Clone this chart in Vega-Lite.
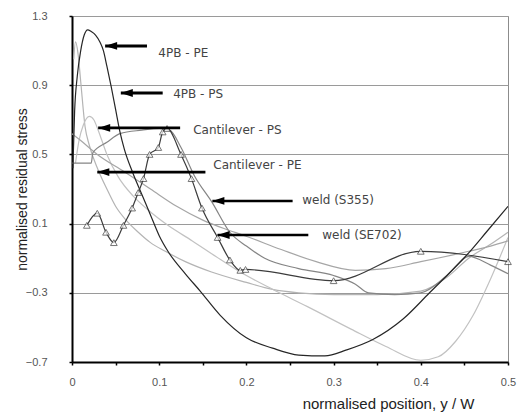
{
  "$schema": "https://vega.github.io/schema/vega-lite/v6.json",
  "width": 436,
  "height": 346,
  "autosize": {"type": "none"},
  "padding": {"left": 72, "top": 16, "right": 10, "bottom": 53},
  "background": "white",
  "config": {
    "view": {"stroke": "#8c8c8c", "strokeWidth": 1},
    "font": "Liberation Sans"
  },
  "datasets": {
    "curves": [
      {"series": "4PB - PS", "x": 0.002, "y": 1.05},
      {"series": "4PB - PS", "x": 0.004, "y": 1.15},
      {"series": "4PB - PS", "x": 0.007, "y": 1.08},
      {"series": "4PB - PS", "x": 0.01, "y": 0.92},
      {"series": "4PB - PS", "x": 0.015, "y": 0.66},
      {"series": "4PB - PS", "x": 0.02, "y": 0.55},
      {"series": "4PB - PS", "x": 0.03, "y": 0.41},
      {"series": "4PB - PS", "x": 0.04, "y": 0.3},
      {"series": "4PB - PS", "x": 0.05, "y": 0.2},
      {"series": "4PB - PS", "x": 0.062, "y": 0.12},
      {"series": "4PB - PS", "x": 0.076, "y": 0.05},
      {"series": "4PB - PS", "x": 0.09, "y": -0.01},
      {"series": "4PB - PS", "x": 0.107, "y": -0.06},
      {"series": "4PB - PS", "x": 0.13, "y": -0.12},
      {"series": "4PB - PS", "x": 0.16, "y": -0.18},
      {"series": "4PB - PS", "x": 0.2, "y": -0.24},
      {"series": "4PB - PS", "x": 0.23, "y": -0.28},
      {"series": "4PB - PS", "x": 0.26, "y": -0.3},
      {"series": "4PB - PS", "x": 0.3, "y": -0.31},
      {"series": "4PB - PS", "x": 0.35, "y": -0.31},
      {"series": "4PB - PS", "x": 0.4, "y": -0.29},
      {"series": "4PB - PS", "x": 0.43, "y": -0.21},
      {"series": "4PB - PS", "x": 0.455, "y": -0.1},
      {"series": "4PB - PS", "x": 0.48, "y": -0.02},
      {"series": "4PB - PS", "x": 0.5, "y": 0.05},

      {"series": "Cantilever - PS", "x": 0.004, "y": 0.45},
      {"series": "Cantilever - PS", "x": 0.008, "y": 0.58},
      {"series": "Cantilever - PS", "x": 0.013, "y": 0.67},
      {"series": "Cantilever - PS", "x": 0.02, "y": 0.72},
      {"series": "Cantilever - PS", "x": 0.025, "y": 0.7},
      {"series": "Cantilever - PS", "x": 0.03, "y": 0.64},
      {"series": "Cantilever - PS", "x": 0.04, "y": 0.5},
      {"series": "Cantilever - PS", "x": 0.053, "y": 0.37},
      {"series": "Cantilever - PS", "x": 0.07, "y": 0.26},
      {"series": "Cantilever - PS", "x": 0.087, "y": 0.18},
      {"series": "Cantilever - PS", "x": 0.11, "y": 0.09},
      {"series": "Cantilever - PS", "x": 0.138, "y": 0.0},
      {"series": "Cantilever - PS", "x": 0.165, "y": -0.09},
      {"series": "Cantilever - PS", "x": 0.193, "y": -0.18},
      {"series": "Cantilever - PS", "x": 0.23, "y": -0.28},
      {"series": "Cantilever - PS", "x": 0.27, "y": -0.38},
      {"series": "Cantilever - PS", "x": 0.32, "y": -0.51},
      {"series": "Cantilever - PS", "x": 0.36, "y": -0.61},
      {"series": "Cantilever - PS", "x": 0.4, "y": -0.69},
      {"series": "Cantilever - PS", "x": 0.42, "y": -0.67},
      {"series": "Cantilever - PS", "x": 0.44, "y": -0.58},
      {"series": "Cantilever - PS", "x": 0.46, "y": -0.43},
      {"series": "Cantilever - PS", "x": 0.48, "y": -0.22},
      {"series": "Cantilever - PS", "x": 0.5, "y": 0.02},

      {"series": "Cantilever - PE", "x": 0.0, "y": 0.62},
      {"series": "Cantilever - PE", "x": 0.01, "y": 0.58},
      {"series": "Cantilever - PE", "x": 0.029, "y": 0.5},
      {"series": "Cantilever - PE", "x": 0.06, "y": 0.4},
      {"series": "Cantilever - PE", "x": 0.09, "y": 0.3},
      {"series": "Cantilever - PE", "x": 0.12, "y": 0.2},
      {"series": "Cantilever - PE", "x": 0.15, "y": 0.12},
      {"series": "Cantilever - PE", "x": 0.175, "y": 0.07},
      {"series": "Cantilever - PE", "x": 0.198, "y": 0.03},
      {"series": "Cantilever - PE", "x": 0.24, "y": -0.05},
      {"series": "Cantilever - PE", "x": 0.28, "y": -0.12},
      {"series": "Cantilever - PE", "x": 0.325, "y": -0.17},
      {"series": "Cantilever - PE", "x": 0.36, "y": -0.16},
      {"series": "Cantilever - PE", "x": 0.4, "y": -0.12},
      {"series": "Cantilever - PE", "x": 0.455, "y": -0.06},
      {"series": "Cantilever - PE", "x": 0.48, "y": -0.03},
      {"series": "Cantilever - PE", "x": 0.5, "y": 0.0},

      {"series": "weld (SE702)", "x": 0.0, "y": 0.45},
      {"series": "weld (SE702)", "x": 0.022, "y": 0.45},
      {"series": "weld (SE702)", "x": 0.024, "y": 0.51},
      {"series": "weld (SE702)", "x": 0.04, "y": 0.57},
      {"series": "weld (SE702)", "x": 0.055, "y": 0.62},
      {"series": "weld (SE702)", "x": 0.08, "y": 0.64},
      {"series": "weld (SE702)", "x": 0.1, "y": 0.65},
      {"series": "weld (SE702)", "x": 0.112, "y": 0.64},
      {"series": "weld (SE702)", "x": 0.125, "y": 0.54},
      {"series": "weld (SE702)", "x": 0.14, "y": 0.38},
      {"series": "weld (SE702)", "x": 0.161, "y": 0.22},
      {"series": "weld (SE702)", "x": 0.181, "y": 0.05},
      {"series": "weld (SE702)", "x": 0.2, "y": -0.03},
      {"series": "weld (SE702)", "x": 0.221, "y": -0.1},
      {"series": "weld (SE702)", "x": 0.26, "y": -0.16},
      {"series": "weld (SE702)", "x": 0.3, "y": -0.2},
      {"series": "weld (SE702)", "x": 0.325, "y": -0.25},
      {"series": "weld (SE702)", "x": 0.34, "y": -0.3},
      {"series": "weld (SE702)", "x": 0.37, "y": -0.31},
      {"series": "weld (SE702)", "x": 0.4, "y": -0.3},
      {"series": "weld (SE702)", "x": 0.43, "y": -0.2},
      {"series": "weld (SE702)", "x": 0.455, "y": -0.09},
      {"series": "weld (SE702)", "x": 0.48, "y": -0.14},
      {"series": "weld (SE702)", "x": 0.5, "y": -0.19},

      {"series": "4PB - PE", "x": 0.001, "y": 0.42},
      {"series": "4PB - PE", "x": 0.003, "y": 0.75},
      {"series": "4PB - PE", "x": 0.006, "y": 0.95},
      {"series": "4PB - PE", "x": 0.01, "y": 1.1},
      {"series": "4PB - PE", "x": 0.014, "y": 1.19},
      {"series": "4PB - PE", "x": 0.018, "y": 1.22},
      {"series": "4PB - PE", "x": 0.022, "y": 1.21},
      {"series": "4PB - PE", "x": 0.027, "y": 1.19},
      {"series": "4PB - PE", "x": 0.032, "y": 1.15},
      {"series": "4PB - PE", "x": 0.036, "y": 1.1},
      {"series": "4PB - PE", "x": 0.04, "y": 1.01},
      {"series": "4PB - PE", "x": 0.045, "y": 0.89},
      {"series": "4PB - PE", "x": 0.05, "y": 0.76},
      {"series": "4PB - PE", "x": 0.055, "y": 0.63},
      {"series": "4PB - PE", "x": 0.06, "y": 0.53},
      {"series": "4PB - PE", "x": 0.07, "y": 0.39},
      {"series": "4PB - PE", "x": 0.08, "y": 0.27},
      {"series": "4PB - PE", "x": 0.09, "y": 0.15},
      {"series": "4PB - PE", "x": 0.1, "y": 0.03},
      {"series": "4PB - PE", "x": 0.11, "y": -0.06},
      {"series": "4PB - PE", "x": 0.13, "y": -0.19},
      {"series": "4PB - PE", "x": 0.147, "y": -0.29},
      {"series": "4PB - PE", "x": 0.17, "y": -0.43},
      {"series": "4PB - PE", "x": 0.2, "y": -0.56},
      {"series": "4PB - PE", "x": 0.23, "y": -0.62},
      {"series": "4PB - PE", "x": 0.26, "y": -0.66},
      {"series": "4PB - PE", "x": 0.29, "y": -0.665},
      {"series": "4PB - PE", "x": 0.315, "y": -0.63},
      {"series": "4PB - PE", "x": 0.345, "y": -0.57},
      {"series": "4PB - PE", "x": 0.38, "y": -0.45},
      {"series": "4PB - PE", "x": 0.41, "y": -0.3},
      {"series": "4PB - PE", "x": 0.43, "y": -0.2},
      {"series": "4PB - PE", "x": 0.453, "y": -0.08},
      {"series": "4PB - PE", "x": 0.475, "y": 0.05},
      {"series": "4PB - PE", "x": 0.5, "y": 0.2},

      {"series": "weld (S355)", "x": 0.017, "y": 0.09},
      {"series": "weld (S355)", "x": 0.029, "y": 0.16},
      {"series": "weld (S355)", "x": 0.039, "y": 0.05},
      {"series": "weld (S355)", "x": 0.048, "y": -0.01},
      {"series": "weld (S355)", "x": 0.059, "y": 0.09},
      {"series": "weld (S355)", "x": 0.069, "y": 0.19},
      {"series": "weld (S355)", "x": 0.076, "y": 0.28},
      {"series": "weld (S355)", "x": 0.082, "y": 0.36},
      {"series": "weld (S355)", "x": 0.089, "y": 0.5},
      {"series": "weld (S355)", "x": 0.099, "y": 0.54},
      {"series": "weld (S355)", "x": 0.104, "y": 0.63},
      {"series": "weld (S355)", "x": 0.109, "y": 0.65},
      {"series": "weld (S355)", "x": 0.125, "y": 0.5},
      {"series": "weld (S355)", "x": 0.137, "y": 0.36},
      {"series": "weld (S355)", "x": 0.149, "y": 0.19},
      {"series": "weld (S355)", "x": 0.167, "y": 0.02},
      {"series": "weld (S355)", "x": 0.181, "y": -0.11},
      {"series": "weld (S355)", "x": 0.193, "y": -0.17},
      {"series": "weld (S355)", "x": 0.199, "y": -0.165},
      {"series": "weld (S355)", "x": 0.3, "y": -0.23},
      {"series": "weld (S355)", "x": 0.4, "y": -0.06},
      {"series": "weld (S355)", "x": 0.5, "y": -0.12}
    ],
    "arrows": [
      {"label": "4PB - PE", "tip": 0.038, "tail": 0.086, "ay": 1.127, "tx": 0.099, "ty": 1.086},
      {"label": "4PB - PS", "tip": 0.056, "tail": 0.104, "ay": 0.855, "tx": 0.116, "ty": 0.849},
      {"label": "Cantilever - PS", "tip": 0.03, "tail": 0.124, "ay": 0.653, "tx": 0.139, "ty": 0.641},
      {"label": "Cantilever - PE", "tip": 0.029, "tail": 0.153, "ay": 0.398, "tx": 0.162, "ty": 0.439},
      {"label": "weld (S355)", "tip": 0.161, "tail": 0.253, "ay": 0.231, "tx": 0.264, "ty": 0.236},
      {"label": "weld (SE702)", "tip": 0.167, "tail": 0.271, "ay": 0.034, "tx": 0.287, "ty": 0.034}
    ]
  },
  "layer": [
    {
      "data": {"name": "curves"},
      "mark": {"type": "line", "strokeWidth": 1.2, "interpolate": "monotone", "clip": true},
      "encoding": {
        "x": {
          "field": "x", "type": "quantitative",
          "scale": {"domain": [0, 0.5], "nice": false},
          "axis": {
            "values": [0, 0.05, 0.1, 0.15, 0.2, 0.25, 0.3, 0.35, 0.4, 0.45, 0.5],
            "labelExpr": "datum.value < 0.001 ? '0' : (abs(datum.value * 10 - round(datum.value * 10)) < 0.01 ? format(datum.value, '.1f') : '')",
            "grid": false,
            "domainColor": "#000000",
            "domainWidth": 2,
            "tickColor": "#000000",
            "tickSize": 3,
            "tickWidth": 1.5,
            "labelFontSize": 11,
            "labelColor": "#555555",
            "labelPadding": 11,
            "labelFlush": false,
            "labelOverlap": false,
            "title": "normalised position, y / W",
            "titleFontSize": 15,
            "titleFontWeight": "normal",
            "titleColor": "#222222",
            "titleX": 316,
            "titleY": 41,
            "titleAlign": "center",
            "titleBaseline": "middle"
          }
        },
        "y": {
          "field": "y", "type": "quantitative",
          "scale": {"domain": [-0.7, 1.3], "nice": false, "zero": false},
          "axis": {
            "values": [-0.7, -0.5, -0.3, -0.1, 0.1, 0.3, 0.5, 0.7, 0.9, 1.1, 1.3],
            "labelExpr": "abs((datum.value + 0.7) / 0.4 - round((datum.value + 0.7) / 0.4)) < 0.01 ? format(datum.value, '.1f') : ''",
            "grid": true,
            "gridColor": "#9a9a9a",
            "gridWidth": 1.2,
            "gridOpacity": {"condition": {"test": "abs((datum.value + 0.7) / 0.4 - round((datum.value + 0.7) / 0.4)) < 0.01", "value": 1}, "value": 0},
            "domainColor": "#000000",
            "domainWidth": 2,
            "tickColor": "#000000",
            "tickSize": 3,
            "tickWidth": 1.5,
            "labelFontSize": 11,
            "labelColor": "#555555",
            "labelPadding": 22,
            "labelOverlap": false,
            "title": "normalised residual stress",
            "titleFontSize": 14,
            "titleFontWeight": "normal",
            "titleColor": "#222222",
            "titleX": -50,
            "titleY": 173,
            "titleAngle": -90,
            "titleAlign": "center",
            "titleBaseline": "middle"
          }
        },
        "color": {
          "field": "series", "type": "nominal",
          "scale": {
            "domain": ["4PB - PE", "4PB - PS", "Cantilever - PS", "Cantilever - PE", "weld (S355)", "weld (SE702)"],
            "range": ["#262626", "#b4b4b4", "#c2c2c2", "#a6a6a6", "#3c3c3c", "#858585"]
          },
          "legend": null
        },
        "detail": {"field": "series"}
      }
    },
    {
      "data": {"name": "curves"},
      "transform": [{"filter": "datum.series == 'weld (S355)'"}],
      "mark": {"type": "point", "shape": "triangle-up", "filled": true, "fill": "white", "stroke": "#3c3c3c", "strokeWidth": 1, "size": 45},
      "encoding": {
        "x": {"field": "x", "type": "quantitative"},
        "y": {"field": "y", "type": "quantitative"}
      }
    },
    {
      "data": {"name": "arrows"},
      "mark": {"type": "rule", "color": "#000000"},
      "encoding": {
        "x": {"field": "tip", "type": "quantitative"},
        "x2": {"field": "tail"},
        "y": {"field": "ay", "type": "quantitative"},
        "size": {
          "field": "label", "type": "nominal",
          "scale": {
            "domain": ["4PB - PE", "4PB - PS", "Cantilever - PS", "Cantilever - PE", "weld (S355)", "weld (SE702)"],
            "range": [3, 2.5, 3, 3, 1.5, 3]
          },
          "legend": null
        }
      }
    },
    {
      "data": {"name": "arrows"},
      "mark": {"type": "point", "shape": "M0,0 L2,-0.65 L2,0.65 Z", "filled": true, "color": "#000000", "size": 144, "opacity": 1},
      "encoding": {
        "x": {"field": "tip", "type": "quantitative"},
        "y": {"field": "ay", "type": "quantitative"}
      }
    },
    {
      "data": {"name": "arrows"},
      "mark": {"type": "text", "align": "left", "baseline": "middle", "font": "DejaVu Sans", "fontSize": 12, "color": "#444444"},
      "encoding": {
        "x": {"field": "tx", "type": "quantitative"},
        "y": {"field": "ty", "type": "quantitative"},
        "text": {"field": "label"}
      }
    }
  ]
}
